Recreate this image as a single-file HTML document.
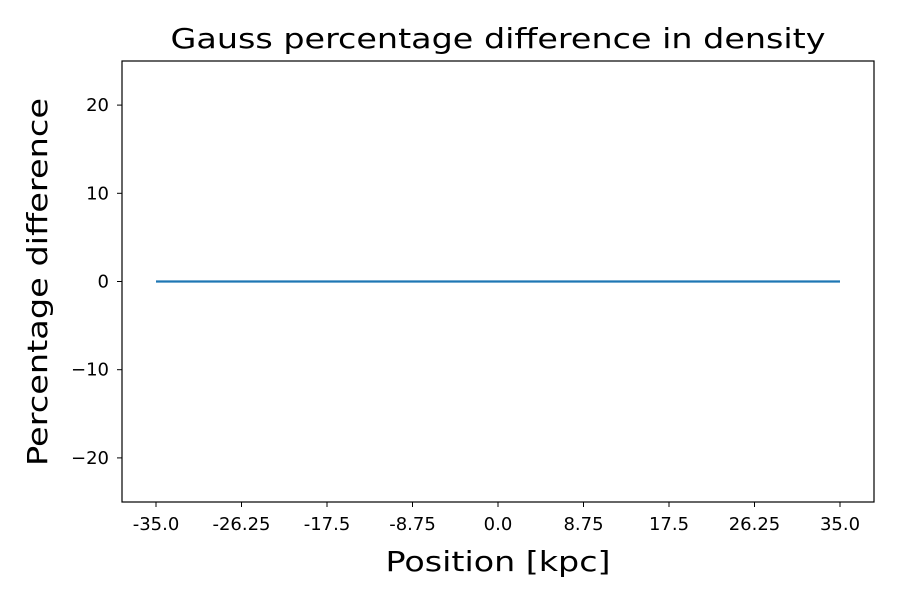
<!DOCTYPE html>
<html><head><meta charset="utf-8"><style>
body{margin:0;background:#fff;}
svg text{font-family:"DejaVu Sans","Liberation Sans",sans-serif;}
</style></head><body>
<svg id="chart" width="900" height="600">
<rect x="0" y="0" width="900" height="600" fill="#fff"/>
<text x="498" y="48" font-size="28" text-anchor="middle" textLength="655" lengthAdjust="spacingAndGlyphs">Gauss percentage difference in density</text>
<g id="xticks"></g>
<g id="yticks"></g>
<text x="498" y="571" font-size="28" text-anchor="middle" textLength="225" lengthAdjust="spacingAndGlyphs">Position [kpc]</text>
<text transform="translate(37,282) rotate(-90)" font-size="28" text-anchor="middle" textLength="368" lengthAdjust="spacingAndGlyphs" dy="10">Percentage difference</text>
<g id="series"></g>
<rect x="122" y="61" width="752" height="441" fill="none" stroke="#000" stroke-width="1.2"/>
</svg>
<script>
const xTicks=[-35,-26.25,-17.5,-8.75,0,8.75,17.5,26.25,35];
const xTickLabels=["-35.0","-26.25","-17.5","-8.75","0.0","8.75","17.5","26.25","35.0"];
const yTicks=[-20,-10,0,10,20];
const yTickLabels=["\u221220","\u221210","0","10","20"];
const positions=[-35,-26.25,-17.5,-8.75,0,8.75,17.5,26.25,35];
const diffs=[0,0,0,0,0,0,0,0,0];
const L=122,R=874,T=61,B=502,xmin=-38.48,xmax=38.48,ymin=-25,ymax=25;
const sx=v=>L+(v-xmin)/(xmax-xmin)*(R-L);
const sy=v=>B-(v-ymin)/(ymax-ymin)*(B-T);
const NS="http://www.w3.org/2000/svg";
const xg=document.getElementById('xticks'),yg=document.getElementById('yticks'),sg=document.getElementById('series');
xTicks.forEach((t,i)=>{
 const l=document.createElementNS(NS,'line');
 l.setAttribute('x1',sx(t));l.setAttribute('x2',sx(t));l.setAttribute('y1',B);l.setAttribute('y2',B+5);l.setAttribute('stroke','#000');
 
 
 xg.appendChild(l);
 const tx=document.createElementNS(NS,'text');
 tx.setAttribute('x',sx(t));tx.setAttribute('y',B+28);tx.setAttribute('font-size','18');tx.setAttribute('text-anchor','middle');
 tx.textContent=xTickLabels[i];
 
 
 xg.appendChild(tx);
});
yTicks.forEach((t,i)=>{
 const l=document.createElementNS(NS,'line');
 l.setAttribute('x1',L-5);l.setAttribute('x2',L);l.setAttribute('y1',sy(t));l.setAttribute('y2',sy(t));l.setAttribute('stroke','#000');
 
 
 yg.appendChild(l);
 const tx=document.createElementNS(NS,'text');
 tx.setAttribute('x',L-13);tx.setAttribute('y',sy(t)+6);tx.setAttribute('font-size','18');tx.setAttribute('text-anchor','end');
 tx.textContent=yTickLabels[i];
 
 
 yg.appendChild(tx);
});
const p=document.createElementNS(NS,'polyline');
p.setAttribute('points',positions.map((x,i)=>sx(x)+','+sy(diffs[i])).join(' '));
p.setAttribute('fill','none');p.setAttribute('stroke','#1f77b4');p.setAttribute('stroke-width','2.2');


sg.appendChild(p);
</script>
</body></html>
